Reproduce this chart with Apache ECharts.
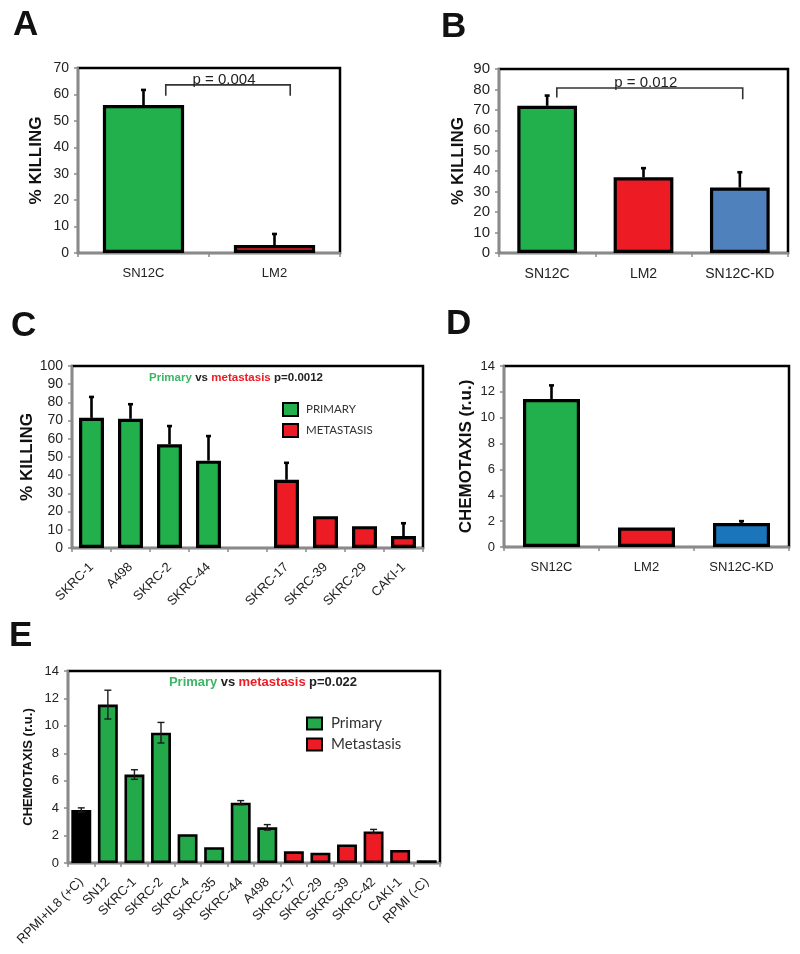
<!DOCTYPE html>
<html><head><meta charset="utf-8">
<script src="https://cdn.jsdelivr.net/npm/echarts@6/dist/echarts.min.js"></script>
<style>html,body{margin:0;padding:0;background:#fff}#c{width:800px;height:954px}</style>
</head><body><div id="c"></div>
<script>
// ---------- DATA ----------
const aCats = ['SN12C', 'LM2'];
const aVals = [56, 3];
const aErr = [5.7, 4.2];

const bCats = ['SN12C', 'LM2', 'SN12C-KD'];
const bVals = [72, 37, 32];
const bErr = [5, 4.5, 7.5];

const cCats = ['SKRC-1', 'A498', 'SKRC-2', 'SKRC-44', '', 'SKRC-17', 'SKRC-39', 'SKRC-29', 'CAKI-1'];
const cPrimary = [71.5, 71, 57, 48, '-', '-', '-', '-', '-'];
const cMetastasis = ['-', '-', '-', '-', '-', 37.5, 17.5, 12, 6.6];
const cErr = [11.5, 8, 10, 13.5, 0, 9.3, 0, 0, 7];

const dCats = ['SN12C', 'LM2', 'SN12C-KD'];
const dVals = [11.45, 1.5, 1.85];
const dErr = [1.05, 0, 0.15];

const eCats = ['RPMI+IL8 (+C)', 'SN12', 'SKRC-1', 'SKRC-2', 'SKRC-4', 'SKRC-35', 'SKRC-44', 'A498',
  'SKRC-17', 'SKRC-29', 'SKRC-39', 'SKRC-42', 'CAKI-1', 'RPMI (-C)'];
const eControl = [3.87, '-', '-', '-', '-', '-', '-', '-', '-', '-', '-', '-', '-', 0.2];
const ePrimary = ['-', 11.55, 6.45, 9.5, 2.1, 1.15, 4.4, 2.6, '-', '-', '-', '-', '-', '-'];
const eMetastasis = ['-', '-', '-', '-', '-', '-', '-', '-', 0.85, 0.75, 1.35, 2.3, 0.95, '-'];
const eErr = [0.15, 1.05, 0.35, 0.75, 0, 0, 0.15, 0.2, 0, 0, 0, 0.15, 0, 0];

const yTicksA = {min: 0, max: 70, interval: 10};
const yTicksB = {min: 0, max: 90, interval: 10};
const yTicksC = {min: 0, max: 100, interval: 10};
const yTicksD = {min: 0, max: 14, interval: 2};
const yTicksE = {min: 0, max: 14, interval: 2};

// ---------- STYLE ----------
const FONT = 'Liberation Sans';
const GREEN = '#21b04b', RED = '#ed1c24', BLUE_B = '#4f81bd', BLUE_D = '#1b75bb';
const aColors = [GREEN, RED];
const bColors = [GREEN, RED, BLUE_B];
const dColors = [GREEN, RED, BLUE_D];

const chart = echarts.init(document.getElementById('c'), null, {renderer: 'canvas'});

function xAx(grid, cats, fs, rotate, margin) {
  return {
    type: 'category', gridIndex: grid, data: cats,
    axisLine: {lineStyle: {color: '#8a8a8a', width: 2}},
    axisTick: {show: true, length: 4, lineStyle: {color: '#8a8a8a', width: 1.5}},
    axisLabel: {color: '#222', fontFamily: FONT, fontSize: fs, rotate: rotate || 0, margin: margin, interval: 0}
  };
}
function yAx(grid, t, fs, name, nameFs, gap) {
  return {
    type: 'value', gridIndex: grid, min: t.min, max: t.max, interval: t.interval,
    splitLine: {show: false},
    axisLine: {show: true, lineStyle: {color: '#8a8a8a', width: 2}},
    axisTick: {show: true, length: 4, lineStyle: {color: '#8a8a8a', width: 1.5}},
    axisLabel: {color: '#222', fontFamily: FONT, fontSize: fs, margin: 9},
    name: name, nameLocation: 'middle', nameRotate: 90, nameGap: gap,
    nameTextStyle: {fontFamily: FONT, fontSize: nameFs, fontWeight: 'bold', color: '#111'}
  };
}
function gridBox(l, t, w, h) {
  return {left: l, top: t, width: w, height: h, show: true, borderColor: '#000', borderWidth: 2.5, backgroundColor: 'transparent'};
}

function errUp(capW, lw) {
  return function (params, api) {
    const e = api.value(2);
    if (!e) return null;
    const i = api.value(0), v = api.value(1);
    const p0 = api.coord([i, v]);
    const p1 = api.coord([i, v + e]);
    return {type: 'group', children: [
      {type: 'line', shape: {x1: p0[0], y1: p0[1], x2: p1[0], y2: p1[1]}, style: {stroke: '#000', lineWidth: lw}},
      {type: 'line', shape: {x1: p1[0] - capW / 2, y1: p1[1], x2: p1[0] + capW / 2, y2: p1[1]}, style: {stroke: '#000', lineWidth: lw}}
    ]};
  };
}
function errBoth(capW, lw) {
  return function (params, api) {
    const e = api.value(2);
    if (!e) return null;
    const i = api.value(0), v = api.value(1);
    const p0 = api.coord([i, v - e]);
    const p1 = api.coord([i, v + e]);
    const st = {stroke: '#1a1a1a', lineWidth: lw};
    return {type: 'group', children: [
      {type: 'line', shape: {x1: p0[0], y1: p0[1], x2: p1[0], y2: p1[1]}, style: st},
      {type: 'line', shape: {x1: p1[0] - capW / 2, y1: p1[1], x2: p1[0] + capW / 2, y2: p1[1]}, style: st},
      {type: 'line', shape: {x1: p0[0] - capW / 2, y1: p0[1], x2: p0[0] + capW / 2, y2: p0[1]}, style: st}
    ]};
  };
}
function bracket(offL, offR, label) {
  return function (params, api) {
    const band = api.size([1, 0])[0];
    const top = api.coord([api.value(0), api.value(2)]);
    const legL = api.coord([api.value(0), api.value(3)]);
    const right = api.coord([api.value(1), api.value(4)]);
    const xL = top[0] + offL * band, xR = right[0] + offR * band;
    const yT = top[1];
    return {type: 'group', children: [
      {type: 'polyline', shape: {points: [[xL, legL[1]], [xL, yT], [xR, yT], [xR, right[1]]]},
        style: {stroke: '#333', lineWidth: 1.6, fill: null}},
      {type: 'text', x: (xL + xR) / 2 - 4, y: yT + 2,
        style: {text: label, textAlign: 'center', textVerticalAlign: 'bottom', fill: '#222', font: '15px ' + FONT}}
    ]};
  };
}
const triple = (vals, errs) => vals.map((v, i) => [i, v === '-' ? 0 : v, errs[i]]);
const colored = (vals, cols) => vals.map((v, i) => ({value: v, itemStyle: {color: cols[i]}}));
const barStyle = (bw) => ({borderColor: '#000', borderWidth: bw});

const cMerged = cPrimary.map((v, i) => v !== '-' ? v : cMetastasis[i]);
const eMerged = eControl.map((v, i) => v !== '-' ? v : (ePrimary[i] !== '-' ? ePrimary[i] : eMetastasis[i]));

const letter = (t, x, y) => ({type: 'text', x: x, y: y, style: {text: t, font: 'bold 35px ' + FONT, fill: '#111'}});
const richTitle = (x, y, p, fs) => ({
  type: 'text', x: x, y: y,
  style: {
    text: '{g|Primary} {k|vs} {r|metastasis} {k|' + p + '}',
    textAlign: 'center', textVerticalAlign: 'middle',
    rich: {
      g: {fill: '#3bb566', font: 'bold ' + fs + 'px ' + FONT},
      r: {fill: RED, font: 'bold ' + fs + 'px ' + FONT},
      k: {fill: '#222', font: 'bold ' + fs + 'px ' + FONT}
    }
  }
});

chart.setOption({
  animation: false,
  backgroundColor: '#fff',
  grid: [
    gridBox(78, 68, 262, 185),
    gridBox(499, 69, 289, 184),
    gridBox(72, 366, 351, 182),
    gridBox(504, 366, 285, 181),
    gridBox(68, 671, 372, 192)
  ],
  xAxis: [
    xAx(0, aCats, 13, 0, 14), xAx(1, bCats, 14, 0, 14), xAx(2, cCats, 13, 45, 17), xAx(3, dCats, 13, 0, 14), xAx(4, eCats, 13, 45, 17)
  ],
  yAxis: [
    yAx(0, yTicksA, 14, '% KILLING', 17, 33),
    yAx(1, yTicksB, 15, '% KILLING', 17, 32),
    yAx(2, yTicksC, 14, '% KILLING', 17, 35),
    yAx(3, yTicksD, 13, 'CHEMOTAXIS (r.u.)', 17, 29),
    yAx(4, yTicksE, 13, 'CHEMOTAXIS (r.u.)', 13, 33)
  ],
  legend: [
    {data: ['PRIMARY', 'METASTASIS'], orient: 'vertical', left: 277, top: 397, itemWidth: 15, itemHeight: 13, itemGap: 6,
      icon: 'rect', itemStyle: {borderColor: '#000', borderWidth: 2},
      textStyle: {fontFamily: 'Lato', fontSize: 11.5, color: '#333', padding: [0, 0, 0, 3]}, selectedMode: false},
    {data: ['Primary', 'Metastasis'], orient: 'vertical', left: 301, top: 711, itemWidth: 15, itemHeight: 12, itemGap: 6,
      icon: 'rect', itemStyle: {borderColor: '#000', borderWidth: 2},
      textStyle: {fontFamily: 'Lato', fontSize: 15, color: '#333', padding: [0, 0, 0, 4]}, selectedMode: false}
  ],
  series: [
    // A
    {type: 'bar', xAxisIndex: 0, yAxisIndex: 0, barWidth: '62%', data: colored(aVals, aColors), itemStyle: barStyle(3.2)},
    {type: 'custom', xAxisIndex: 0, yAxisIndex: 0, renderItem: errUp(5, 2.6), encode: {x: 0, y: 1}, data: triple(aVals, aErr), z: 5},
    {type: 'custom', xAxisIndex: 0, yAxisIndex: 0, renderItem: bracket(0.17, 0.12, 'p = 0.004'), encode: {x: 0, y: 2},
      data: [[0, 1, 63.6, 59.5, 59.5]], z: 5},
    // B
    {type: 'bar', xAxisIndex: 1, yAxisIndex: 1, barWidth: '62%', data: colored(bVals, bColors), itemStyle: barStyle(3.2)},
    {type: 'custom', xAxisIndex: 1, yAxisIndex: 1, renderItem: errUp(5, 2.6), encode: {x: 0, y: 1}, data: triple(bVals, bErr), z: 5},
    {type: 'custom', xAxisIndex: 1, yAxisIndex: 1, renderItem: bracket(0.1, 0.03, 'p = 0.012'), encode: {x: 0, y: 2},
      data: [[0, 2, 80.7, 76, 75.2]], z: 5},
    // C
    {name: 'PRIMARY', type: 'bar', stack: 'c', xAxisIndex: 2, yAxisIndex: 2, barWidth: '64%', data: cPrimary,
      itemStyle: Object.assign({color: GREEN}, barStyle(3.2))},
    {name: 'METASTASIS', type: 'bar', stack: 'c', xAxisIndex: 2, yAxisIndex: 2, barWidth: '64%', data: cMetastasis,
      itemStyle: Object.assign({color: RED}, barStyle(3.2))},
    {type: 'custom', xAxisIndex: 2, yAxisIndex: 2, renderItem: errUp(5, 2.6), encode: {x: 0, y: 1}, data: triple(cMerged, cErr), z: 5},
    // D
    {type: 'bar', xAxisIndex: 3, yAxisIndex: 3, barWidth: '60%', data: colored(dVals, dColors), itemStyle: barStyle(3.2)},
    {type: 'custom', xAxisIndex: 3, yAxisIndex: 3, renderItem: errUp(5, 2.6), encode: {x: 0, y: 1}, data: triple(dVals, dErr), z: 5},
    // E
    {name: 'Control', type: 'bar', stack: 'e', xAxisIndex: 4, yAxisIndex: 4, barWidth: '75%', data: eControl,
      itemStyle: Object.assign({color: '#000'}, barStyle(2.6))},
    {name: 'Primary', type: 'bar', stack: 'e', xAxisIndex: 4, yAxisIndex: 4, barWidth: '75%', data: ePrimary,
      itemStyle: Object.assign({color: '#23a84a'}, barStyle(2.6))},
    {name: 'Metastasis', type: 'bar', stack: 'e', xAxisIndex: 4, yAxisIndex: 4, barWidth: '75%', data: eMetastasis,
      itemStyle: Object.assign({color: RED}, barStyle(2.6))},
    {type: 'custom', xAxisIndex: 4, yAxisIndex: 4, renderItem: errBoth(7, 1.4), encode: {x: 0, y: 1}, data: triple(eMerged, eErr), z: 5}
  ],
  graphic: [
    letter('A', 13, 8), letter('B', 441, 10), letter('C', 11, 309), letter('D', 446, 307), letter('E', 9, 619),
    richTitle(236, 378, 'p=0.0012', 11.5),
    richTitle(263, 682, 'p=0.022', 13)
  ]
});
</script>
</body></html>
